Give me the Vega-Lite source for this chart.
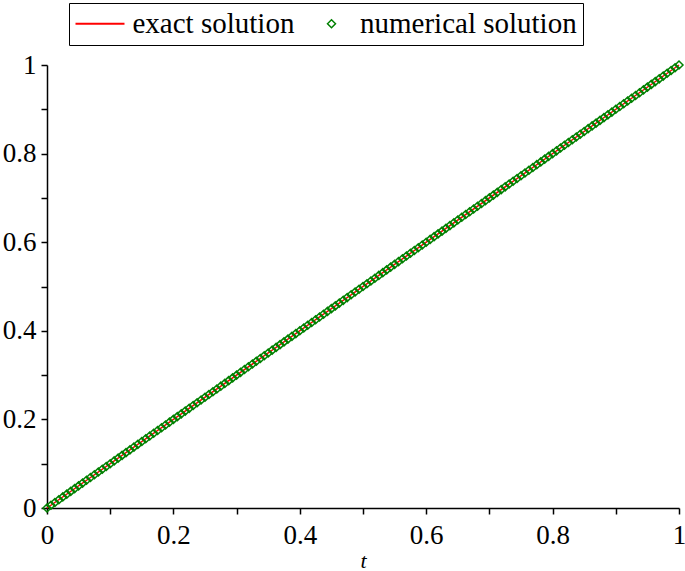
{
  "$schema": "https://vega.github.io/schema/vega-lite/v6.json",
  "width": 632,
  "height": 443,
  "autosize": {"type": "none"},
  "padding": {"left": 47, "top": 65, "right": 6, "bottom": 63},
  "background": "white",
  "config": {
    "view": {"stroke": null},
    "font": "Liberation Serif",
    "legend": {"labelFont": "Liberation Serif", "labelFontSize": 29, "labelColor": "black"}
  },
  "datasets": {
    "exact": [{"t": 0, "y": 0}, {"t": 1, "y": 1}],
    "num": [
      {"t":0,"y":0,"s":"numerical solution"},{"t":0.00625,"y":0.00625,"s":"numerical solution"},{"t":0.0125,"y":0.0125,"s":"numerical solution"},{"t":0.01875,"y":0.01875,"s":"numerical solution"},{"t":0.025,"y":0.025,"s":"numerical solution"},{"t":0.03125,"y":0.03125,"s":"numerical solution"},{"t":0.0375,"y":0.0375,"s":"numerical solution"},{"t":0.04375,"y":0.04375,"s":"numerical solution"},
      {"t":0.05,"y":0.05,"s":"numerical solution"},{"t":0.05625,"y":0.05625,"s":"numerical solution"},{"t":0.0625,"y":0.0625,"s":"numerical solution"},{"t":0.06875,"y":0.06875,"s":"numerical solution"},{"t":0.075,"y":0.075,"s":"numerical solution"},{"t":0.08125,"y":0.08125,"s":"numerical solution"},{"t":0.0875,"y":0.0875,"s":"numerical solution"},{"t":0.09375,"y":0.09375,"s":"numerical solution"},
      {"t":0.1,"y":0.1,"s":"numerical solution"},{"t":0.10625,"y":0.10625,"s":"numerical solution"},{"t":0.1125,"y":0.1125,"s":"numerical solution"},{"t":0.11875,"y":0.11875,"s":"numerical solution"},{"t":0.125,"y":0.125,"s":"numerical solution"},{"t":0.13125,"y":0.13125,"s":"numerical solution"},{"t":0.1375,"y":0.1375,"s":"numerical solution"},{"t":0.14375,"y":0.14375,"s":"numerical solution"},
      {"t":0.15,"y":0.15,"s":"numerical solution"},{"t":0.15625,"y":0.15625,"s":"numerical solution"},{"t":0.1625,"y":0.1625,"s":"numerical solution"},{"t":0.16875,"y":0.16875,"s":"numerical solution"},{"t":0.175,"y":0.175,"s":"numerical solution"},{"t":0.18125,"y":0.18125,"s":"numerical solution"},{"t":0.1875,"y":0.1875,"s":"numerical solution"},{"t":0.19375,"y":0.19375,"s":"numerical solution"},
      {"t":0.2,"y":0.2,"s":"numerical solution"},{"t":0.20625,"y":0.20625,"s":"numerical solution"},{"t":0.2125,"y":0.2125,"s":"numerical solution"},{"t":0.21875,"y":0.21875,"s":"numerical solution"},{"t":0.225,"y":0.225,"s":"numerical solution"},{"t":0.23125,"y":0.23125,"s":"numerical solution"},{"t":0.2375,"y":0.2375,"s":"numerical solution"},{"t":0.24375,"y":0.24375,"s":"numerical solution"},
      {"t":0.25,"y":0.25,"s":"numerical solution"},{"t":0.25625,"y":0.25625,"s":"numerical solution"},{"t":0.2625,"y":0.2625,"s":"numerical solution"},{"t":0.26875,"y":0.26875,"s":"numerical solution"},{"t":0.275,"y":0.275,"s":"numerical solution"},{"t":0.28125,"y":0.28125,"s":"numerical solution"},{"t":0.2875,"y":0.2875,"s":"numerical solution"},{"t":0.29375,"y":0.29375,"s":"numerical solution"},
      {"t":0.3,"y":0.3,"s":"numerical solution"},{"t":0.30625,"y":0.30625,"s":"numerical solution"},{"t":0.3125,"y":0.3125,"s":"numerical solution"},{"t":0.31875,"y":0.31875,"s":"numerical solution"},{"t":0.325,"y":0.325,"s":"numerical solution"},{"t":0.33125,"y":0.33125,"s":"numerical solution"},{"t":0.3375,"y":0.3375,"s":"numerical solution"},{"t":0.34375,"y":0.34375,"s":"numerical solution"},
      {"t":0.35,"y":0.35,"s":"numerical solution"},{"t":0.35625,"y":0.35625,"s":"numerical solution"},{"t":0.3625,"y":0.3625,"s":"numerical solution"},{"t":0.36875,"y":0.36875,"s":"numerical solution"},{"t":0.375,"y":0.375,"s":"numerical solution"},{"t":0.38125,"y":0.38125,"s":"numerical solution"},{"t":0.3875,"y":0.3875,"s":"numerical solution"},{"t":0.39375,"y":0.39375,"s":"numerical solution"},
      {"t":0.4,"y":0.4,"s":"numerical solution"},{"t":0.40625,"y":0.40625,"s":"numerical solution"},{"t":0.4125,"y":0.4125,"s":"numerical solution"},{"t":0.41875,"y":0.41875,"s":"numerical solution"},{"t":0.425,"y":0.425,"s":"numerical solution"},{"t":0.43125,"y":0.43125,"s":"numerical solution"},{"t":0.4375,"y":0.4375,"s":"numerical solution"},{"t":0.44375,"y":0.44375,"s":"numerical solution"},
      {"t":0.45,"y":0.45,"s":"numerical solution"},{"t":0.45625,"y":0.45625,"s":"numerical solution"},{"t":0.4625,"y":0.4625,"s":"numerical solution"},{"t":0.46875,"y":0.46875,"s":"numerical solution"},{"t":0.475,"y":0.475,"s":"numerical solution"},{"t":0.48125,"y":0.48125,"s":"numerical solution"},{"t":0.4875,"y":0.4875,"s":"numerical solution"},{"t":0.49375,"y":0.49375,"s":"numerical solution"},
      {"t":0.5,"y":0.5,"s":"numerical solution"},{"t":0.50625,"y":0.50625,"s":"numerical solution"},{"t":0.5125,"y":0.5125,"s":"numerical solution"},{"t":0.51875,"y":0.51875,"s":"numerical solution"},{"t":0.525,"y":0.525,"s":"numerical solution"},{"t":0.53125,"y":0.53125,"s":"numerical solution"},{"t":0.5375,"y":0.5375,"s":"numerical solution"},{"t":0.54375,"y":0.54375,"s":"numerical solution"},
      {"t":0.55,"y":0.55,"s":"numerical solution"},{"t":0.55625,"y":0.55625,"s":"numerical solution"},{"t":0.5625,"y":0.5625,"s":"numerical solution"},{"t":0.56875,"y":0.56875,"s":"numerical solution"},{"t":0.575,"y":0.575,"s":"numerical solution"},{"t":0.58125,"y":0.58125,"s":"numerical solution"},{"t":0.5875,"y":0.5875,"s":"numerical solution"},{"t":0.59375,"y":0.59375,"s":"numerical solution"},
      {"t":0.6,"y":0.6,"s":"numerical solution"},{"t":0.60625,"y":0.60625,"s":"numerical solution"},{"t":0.6125,"y":0.6125,"s":"numerical solution"},{"t":0.61875,"y":0.61875,"s":"numerical solution"},{"t":0.625,"y":0.625,"s":"numerical solution"},{"t":0.63125,"y":0.63125,"s":"numerical solution"},{"t":0.6375,"y":0.6375,"s":"numerical solution"},{"t":0.64375,"y":0.64375,"s":"numerical solution"},
      {"t":0.65,"y":0.65,"s":"numerical solution"},{"t":0.65625,"y":0.65625,"s":"numerical solution"},{"t":0.6625,"y":0.6625,"s":"numerical solution"},{"t":0.66875,"y":0.66875,"s":"numerical solution"},{"t":0.675,"y":0.675,"s":"numerical solution"},{"t":0.68125,"y":0.68125,"s":"numerical solution"},{"t":0.6875,"y":0.6875,"s":"numerical solution"},{"t":0.69375,"y":0.69375,"s":"numerical solution"},
      {"t":0.7,"y":0.7,"s":"numerical solution"},{"t":0.70625,"y":0.70625,"s":"numerical solution"},{"t":0.7125,"y":0.7125,"s":"numerical solution"},{"t":0.71875,"y":0.71875,"s":"numerical solution"},{"t":0.725,"y":0.725,"s":"numerical solution"},{"t":0.73125,"y":0.73125,"s":"numerical solution"},{"t":0.7375,"y":0.7375,"s":"numerical solution"},{"t":0.74375,"y":0.74375,"s":"numerical solution"},
      {"t":0.75,"y":0.75,"s":"numerical solution"},{"t":0.75625,"y":0.75625,"s":"numerical solution"},{"t":0.7625,"y":0.7625,"s":"numerical solution"},{"t":0.76875,"y":0.76875,"s":"numerical solution"},{"t":0.775,"y":0.775,"s":"numerical solution"},{"t":0.78125,"y":0.78125,"s":"numerical solution"},{"t":0.7875,"y":0.7875,"s":"numerical solution"},{"t":0.79375,"y":0.79375,"s":"numerical solution"},
      {"t":0.8,"y":0.8,"s":"numerical solution"},{"t":0.80625,"y":0.80625,"s":"numerical solution"},{"t":0.8125,"y":0.8125,"s":"numerical solution"},{"t":0.81875,"y":0.81875,"s":"numerical solution"},{"t":0.825,"y":0.825,"s":"numerical solution"},{"t":0.83125,"y":0.83125,"s":"numerical solution"},{"t":0.8375,"y":0.8375,"s":"numerical solution"},{"t":0.84375,"y":0.84375,"s":"numerical solution"},
      {"t":0.85,"y":0.85,"s":"numerical solution"},{"t":0.85625,"y":0.85625,"s":"numerical solution"},{"t":0.8625,"y":0.8625,"s":"numerical solution"},{"t":0.86875,"y":0.86875,"s":"numerical solution"},{"t":0.875,"y":0.875,"s":"numerical solution"},{"t":0.88125,"y":0.88125,"s":"numerical solution"},{"t":0.8875,"y":0.8875,"s":"numerical solution"},{"t":0.89375,"y":0.89375,"s":"numerical solution"},
      {"t":0.9,"y":0.9,"s":"numerical solution"},{"t":0.90625,"y":0.90625,"s":"numerical solution"},{"t":0.9125,"y":0.9125,"s":"numerical solution"},{"t":0.91875,"y":0.91875,"s":"numerical solution"},{"t":0.925,"y":0.925,"s":"numerical solution"},{"t":0.93125,"y":0.93125,"s":"numerical solution"},{"t":0.9375,"y":0.9375,"s":"numerical solution"},{"t":0.94375,"y":0.94375,"s":"numerical solution"},
      {"t":0.95,"y":0.95,"s":"numerical solution"},{"t":0.95625,"y":0.95625,"s":"numerical solution"},{"t":0.9625,"y":0.9625,"s":"numerical solution"},{"t":0.96875,"y":0.96875,"s":"numerical solution"},{"t":0.975,"y":0.975,"s":"numerical solution"},{"t":0.98125,"y":0.98125,"s":"numerical solution"},{"t":0.9875,"y":0.9875,"s":"numerical solution"},{"t":0.99375,"y":0.99375,"s":"numerical solution"},
      {"t":1,"y":1,"s":"numerical solution"}
    ]
  },
  "layer": [
    {
      "data": {"name": "exact"},
      "mark": {"type": "line", "color": "#ff0000", "strokeWidth": 1.5},
      "encoding": {
        "x": {
          "field": "t", "type": "quantitative",
          "scale": {"domain": [0, 1], "nice": false, "zero": false},
          "axis": {
            "values": [0, 0.1, 0.2, 0.3, 0.4, 0.5, 0.6, 0.7, 0.8, 0.9, 1],
            "labelExpr": "round(datum.value*10) % 2 == 0 ? '' + round(datum.value*10)/10 : ''",
            "title": "t",
            "titleFont": "Liberation Serif", "titleFontStyle": "italic", "titleFontWeight": "normal",
            "titleFontSize": 22, "titleColor": "black", "titlePadding": 2,
            "labelFont": "Liberation Serif", "labelFontSize": 27, "labelColor": "black",
            "labelPadding": 8, "labelFlush": false, "labelOverlap": false,
            "domainColor": "black", "domainWidth": 1.5,
            "tickColor": "black", "tickWidth": 1.5, "tickSize": 6,
            "grid": false
          }
        },
        "y": {
          "field": "y", "type": "quantitative",
          "scale": {"domain": [0, 1], "nice": false, "zero": false},
          "axis": {
            "values": [0, 0.1, 0.2, 0.3, 0.4, 0.5, 0.6, 0.7, 0.8, 0.9, 1],
            "labelExpr": "round(datum.value*10) % 2 == 0 ? '' + round(datum.value*10)/10 : ''",
            "title": null,
            "labelFont": "Liberation Serif", "labelFontSize": 27, "labelColor": "black",
            "labelPadding": 5, "labelFlush": false, "labelOverlap": false,
            "domainColor": "black", "domainWidth": 1.5,
            "tickColor": "black", "tickWidth": 1.5, "tickSize": 6,
            "grid": false
          }
        }
      }
    },
    {
      "data": {"name": "num"},
      "mark": {"type": "point", "filled": false, "strokeWidth": 1.5, "size": 64, "opacity": 1, "shape": "diamond"},
      "encoding": {
        "x": {"field": "t", "type": "quantitative"},
        "y": {"field": "y", "type": "quantitative"},
        "color": {
          "field": "s", "type": "nominal",
          "scale": {"domain": ["exact solution", "numerical solution"], "range": ["#ff0000", "#008000"]},
          "legend": {
            "title": null, "orient": "none", "legendX": 22, "legendY": -62, "direction": "horizontal",
            "strokeColor": "black", "padding": 6,
            "labelFont": "Liberation Serif", "labelFontSize": 29, "labelColor": "black", "labelLimit": 500,
            "symbolType": {"expr": "datum.value === 'numerical solution' ? 'diamond' : 'stroke'"},
            "symbolSize": {"expr": "datum.value === 'numerical solution' ? 64 : 2400"},
            "symbolStrokeWidth": {"expr": "datum.value === 'numerical solution' ? 1.5 : 2"},
            "symbolOffset": {"expr": "datum.value === 'numerical solution' ? 0 : 10.5"},
            "labelOffset": {"expr": "datum.value === 'numerical solution' ? 14 : 18"},
            "columnPadding": 22,
            "encode": {"labels": {"font": {"value": "Liberation Serif"}, "fontSize": {"value": 29}}}
          }
        }
      }
    }
  ]
}
